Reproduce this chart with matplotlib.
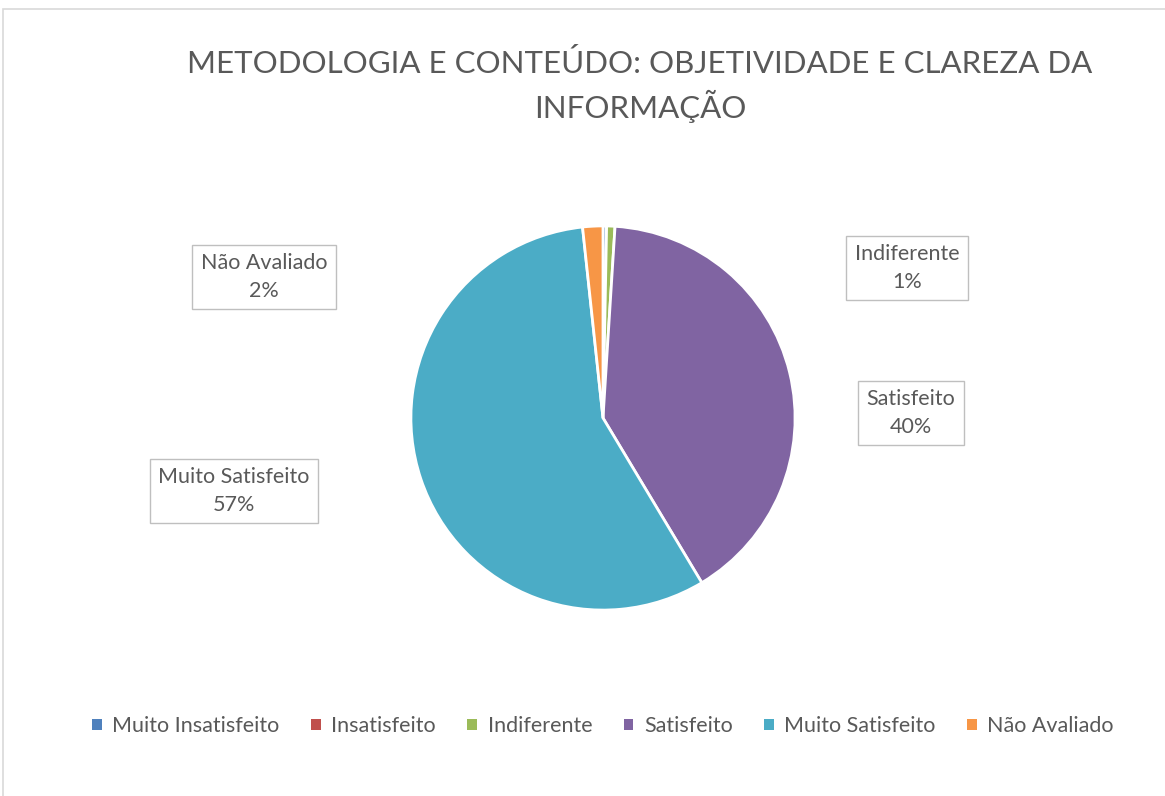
import matplotlib.pyplot as plt
from matplotlib.patches import Rectangle, Patch

plt.rcParams['font.family'] = ['Lato', 'DejaVu Sans']

# data
categorias = ['Muito Insatisfeito', 'Insatisfeito', 'Indiferente', 'Satisfeito',
              'Muito Satisfeito', 'Não Avaliado']
valores = [0.3, 0.0, 0.7, 40.4, 56.9, 1.7]
cores = ['#4f81bd', '#c0504d', '#9bbb59', '#8064a2', '#4bacc6', '#f79646']
rotulos = {'Não Avaliado': '2%', 'Indiferente': '1%', 'Satisfeito': '40%',
           'Muito Satisfeito': '57%'}

W, H = 1165, 796
fig = plt.figure(figsize=(W / 100, H / 100), dpi=100)

# chart frame
fig.patches.append(Rectangle((3 / W, -0.05), 1.1, (H - 9) / H + 0.05,
                             transform=fig.transFigure, fill=False,
                             edgecolor='#d9d9d9', linewidth=1.2))

cx, cy, r = 603, 418, 194
ax = fig.add_axes([(cx - r) / W, (H - cy - r) / H, 2 * r / W, 2 * r / H])
ax.pie(valores, colors=cores, startangle=90, counterclock=False, radius=1,
       wedgeprops=dict(edgecolor='white', linewidth=2))
ax.set_xlim(-1.01, 1.01)
ax.set_ylim(-1.01, 1.01)
ax.set_aspect('equal')
ax.axis('off')

txt = '#595959'
fig.text(640 / W, 1 - 86 / H, 'METODOLOGIA E CONTEÚDO: OBJETIVIDADE E CLAREZA DA\nINFORMAÇÃO',
         ha='center', va='center', fontsize=22.5, color=txt, linespacing=1.45)

# data label boxes
pos = {'Não Avaliado': (264, 277), 'Indiferente': (907, 268),
       'Satisfeito': (911, 413), 'Muito Satisfeito': (234, 491)}
for nome, (x, y) in pos.items():
    fig.text(x / W, 1 - y / H, f'{nome}\n{rotulos[nome]}', ha='center', va='center',
             fontsize=15.5, color=txt, linespacing=1.45,
             bbox=dict(boxstyle='square,pad=0.4', fc='white', ec='#bfbfbf', lw=1))

handles = [Patch(facecolor=c, edgecolor='none') for c in cores]
fig.legend(handles, categorias, loc='center', bbox_to_anchor=(603 / W, 1 - 726 / H),
           ncol=6, frameon=False, fontsize=15.5, labelcolor=txt,
           handlelength=0.45, handleheight=0.45, handletextpad=0.5, columnspacing=1.45)

fig.savefig('out.png', dpi=100)
